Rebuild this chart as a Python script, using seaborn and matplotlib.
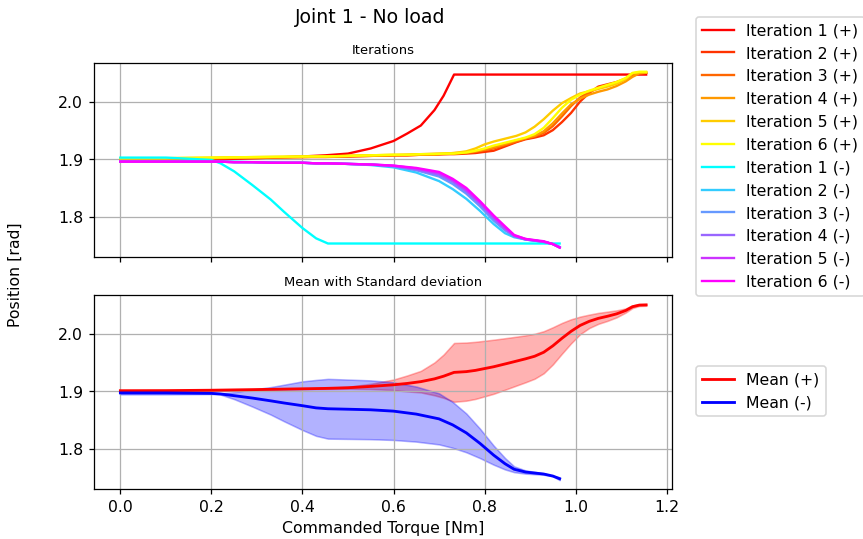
import numpy as np
import matplotlib
matplotlib.use("Agg")
import matplotlib.pyplot as plt
import seaborn as sns

# ---------------- data ----------------
torque_plus = [0.0, 0.1, 0.2, 0.3, 0.4, 0.45, 0.5, 0.55, 0.6, 0.63, 0.66, 0.69, 0.71, 0.733,
               0.76, 0.78, 0.8, 0.82, 0.85, 0.87, 0.89, 0.91, 0.93, 0.95, 0.97, 0.99,
               1.01, 1.03, 1.05, 1.07, 1.09, 1.11, 1.125, 1.14, 1.155]

pos_plus_1 = [1.900, 1.900, 1.900, 1.902, 1.905, 1.907, 1.910, 1.919, 1.932, 1.945, 1.959, 1.986, 2.011, 2.048,
              2.048, 2.048, 2.048, 2.048, 2.048, 2.048, 2.048, 2.048, 2.048, 2.048, 2.048, 2.048,
              2.048, 2.048, 2.048, 2.048, 2.048, 2.048, 2.048, 2.048, 2.048]
pos_plus_2 = [1.901, 1.901, 1.902, 1.903, 1.904, 1.904, 1.905, 1.906, 1.907, 1.907, 1.908, 1.908, 1.909, 1.909,
              1.910, 1.911, 1.913, 1.915, 1.924, 1.930, 1.935, 1.938, 1.942, 1.951, 1.965, 1.981,
              2.001, 2.016, 2.027, 2.031, 2.035, 2.041, 2.046, 2.050, 2.051]
pos_plus_3 = [1.901, 1.901, 1.902, 1.903, 1.904, 1.905, 1.905, 1.906, 1.907, 1.907, 1.908, 1.909, 1.909, 1.910,
              1.911, 1.913, 1.916, 1.919, 1.926, 1.931, 1.936, 1.940, 1.946, 1.958, 1.975, 1.993,
              2.008, 2.018, 2.024, 2.029, 2.034, 2.040, 2.048, 2.051, 2.051]
pos_plus_4 = [1.901, 1.902, 1.902, 1.903, 1.904, 1.905, 1.906, 1.907, 1.907, 1.908, 1.909, 1.909, 1.910, 1.911,
              1.912, 1.914, 1.917, 1.921, 1.928, 1.933, 1.937, 1.941, 1.949, 1.963, 1.980, 1.996,
              2.006, 2.013, 2.018, 2.022, 2.028, 2.036, 2.044, 2.050, 2.051]
pos_plus_5 = [1.902, 1.902, 1.903, 1.904, 1.905, 1.905, 1.906, 1.907, 1.908, 1.908, 1.909, 1.910, 1.910, 1.911,
              1.914, 1.919, 1.926, 1.931, 1.937, 1.941, 1.947, 1.957, 1.970, 1.985, 1.998, 2.007,
              2.015, 2.019, 2.023, 2.027, 2.032, 2.040, 2.050, 2.052, 2.052]
pos_plus_6 = [1.902, 1.902, 1.903, 1.904, 1.905, 1.905, 1.906, 1.907, 1.908, 1.908, 1.909, 1.909, 1.910, 1.910,
              1.912, 1.915, 1.919, 1.924, 1.930, 1.934, 1.938, 1.944, 1.955, 1.972, 1.990, 2.004,
              2.013, 2.020, 2.025, 2.030, 2.035, 2.042, 2.051, 2.053, 2.053]

torque_minus = [0.0, 0.1, 0.2, 0.22, 0.25, 0.29, 0.33, 0.36, 0.4, 0.43, 0.456, 0.5, 0.55,
                0.6, 0.65, 0.7, 0.73, 0.76, 0.79, 0.82, 0.845, 0.865, 0.89, 0.93, 0.95, 0.965]

pos_minus_1 = [1.903, 1.903, 1.899, 1.893, 1.879, 1.855, 1.830, 1.808, 1.780, 1.762, 1.753, 1.753, 1.753,
               1.753, 1.753, 1.753, 1.753, 1.753, 1.753, 1.753, 1.753, 1.753, 1.753, 1.753, 1.753, 1.753]
pos_minus_2 = [1.897, 1.897, 1.896, 1.896, 1.896, 1.895, 1.895, 1.894, 1.894, 1.893, 1.893, 1.892, 1.890,
               1.886, 1.877, 1.862, 1.848, 1.831, 1.810, 1.787, 1.771, 1.764, 1.760, 1.756, 1.752, 1.747]
pos_minus_3 = [1.896, 1.896, 1.896, 1.896, 1.895, 1.895, 1.894, 1.894, 1.894, 1.893, 1.893, 1.892, 1.891,
               1.888, 1.881, 1.870, 1.857, 1.840, 1.818, 1.793, 1.776, 1.766, 1.760, 1.756, 1.752, 1.747]
pos_minus_4 = [1.896, 1.896, 1.896, 1.896, 1.895, 1.895, 1.894, 1.894, 1.894, 1.893, 1.893, 1.892, 1.891,
               1.888, 1.882, 1.873, 1.861, 1.844, 1.822, 1.797, 1.778, 1.766, 1.760, 1.756, 1.752, 1.746]
pos_minus_5 = [1.896, 1.896, 1.896, 1.896, 1.895, 1.895, 1.894, 1.894, 1.894, 1.893, 1.893, 1.892, 1.891,
               1.889, 1.884, 1.876, 1.864, 1.847, 1.825, 1.800, 1.781, 1.767, 1.761, 1.756, 1.752, 1.746]
pos_minus_6 = [1.896, 1.896, 1.896, 1.896, 1.895, 1.895, 1.894, 1.894, 1.894, 1.893, 1.893, 1.892, 1.891,
               1.889, 1.885, 1.878, 1.866, 1.850, 1.827, 1.802, 1.783, 1.768, 1.761, 1.757, 1.752, 1.746]

plus_iters = [pos_plus_1, pos_plus_2, pos_plus_3, pos_plus_4, pos_plus_5, pos_plus_6]
minus_iters = [pos_minus_1, pos_minus_2, pos_minus_3, pos_minus_4, pos_minus_5, pos_minus_6]

# ---------------- figure ----------------
DPI = 113
fig, (ax1, ax2) = plt.subplots(2, 1, sharex=True, sharey=True,
                               figsize=(863.2 / DPI, 539.2 / DPI), dpi=DPI)
fig.subplots_adjust(left=0.109, right=0.779, top=0.883, bottom=0.0928, hspace=0.196)

plus_colors = plt.cm.autumn(np.linspace(0, 1, 6))
minus_colors = plt.cm.cool(np.linspace(0, 1, 6))

for i, vals in enumerate(plus_iters):
    sns.lineplot(x=torque_plus, y=vals, ax=ax1, color=plus_colors[i], linewidth=1.5,
                 estimator=None, sort=False, label=f"Iteration {i + 1} (+)")
for i, vals in enumerate(minus_iters):
    sns.lineplot(x=torque_minus, y=vals, ax=ax1, color=minus_colors[i], linewidth=1.5,
                 estimator=None, sort=False, label=f"Iteration {i + 1} (-)")

arr_p = np.array(plus_iters)
arr_m = np.array(minus_iters)
mean_p, std_p = arr_p.mean(axis=0), arr_p.std(axis=0)
mean_m, std_m = arr_m.mean(axis=0), arr_m.std(axis=0)

ax2.fill_between(torque_plus, mean_p - std_p, mean_p + std_p, color="red", alpha=0.3)
ax2.fill_between(torque_minus, mean_m - std_m, mean_m + std_m, color="blue", alpha=0.3)
sns.lineplot(x=torque_plus, y=mean_p, ax=ax2, color="red", linewidth=1.8,
             estimator=None, sort=False, label="Mean (+)")
sns.lineplot(x=torque_minus, y=mean_m, ax=ax2, color="blue", linewidth=1.8,
             estimator=None, sort=False, label="Mean (-)")

for ax in (ax1, ax2):
    if ax.get_legend() is not None:
        ax.get_legend().remove()
    ax.grid(True)
    ax.set_ylabel("")

ax1.set_title("Iterations", fontsize="small")
ax2.set_title("Mean with Standard deviation", fontsize="small")
ax2.set_xlabel("Commanded Torque [Nm]")
ax2.set_xticks([0.0, 0.2, 0.4, 0.6, 0.8, 1.0, 1.2])

fig.suptitle("Joint 1 - No load", x=0.429, y=0.985)
fig.text(0.0174, 0.49, "Position [rad]", rotation=90, va="center", ha="center")

h1, l1 = ax1.get_legend_handles_labels()
h2, l2 = ax2.get_legend_handles_labels()
fig.legend(h1, l1, loc="upper left", bbox_to_anchor=(0.8065, 0.9685), borderaxespad=0)
fig.legend(h2, l2, loc="upper left", bbox_to_anchor=(0.8065, 0.321), borderaxespad=0)

fig.savefig("out.png", dpi=DPI)
